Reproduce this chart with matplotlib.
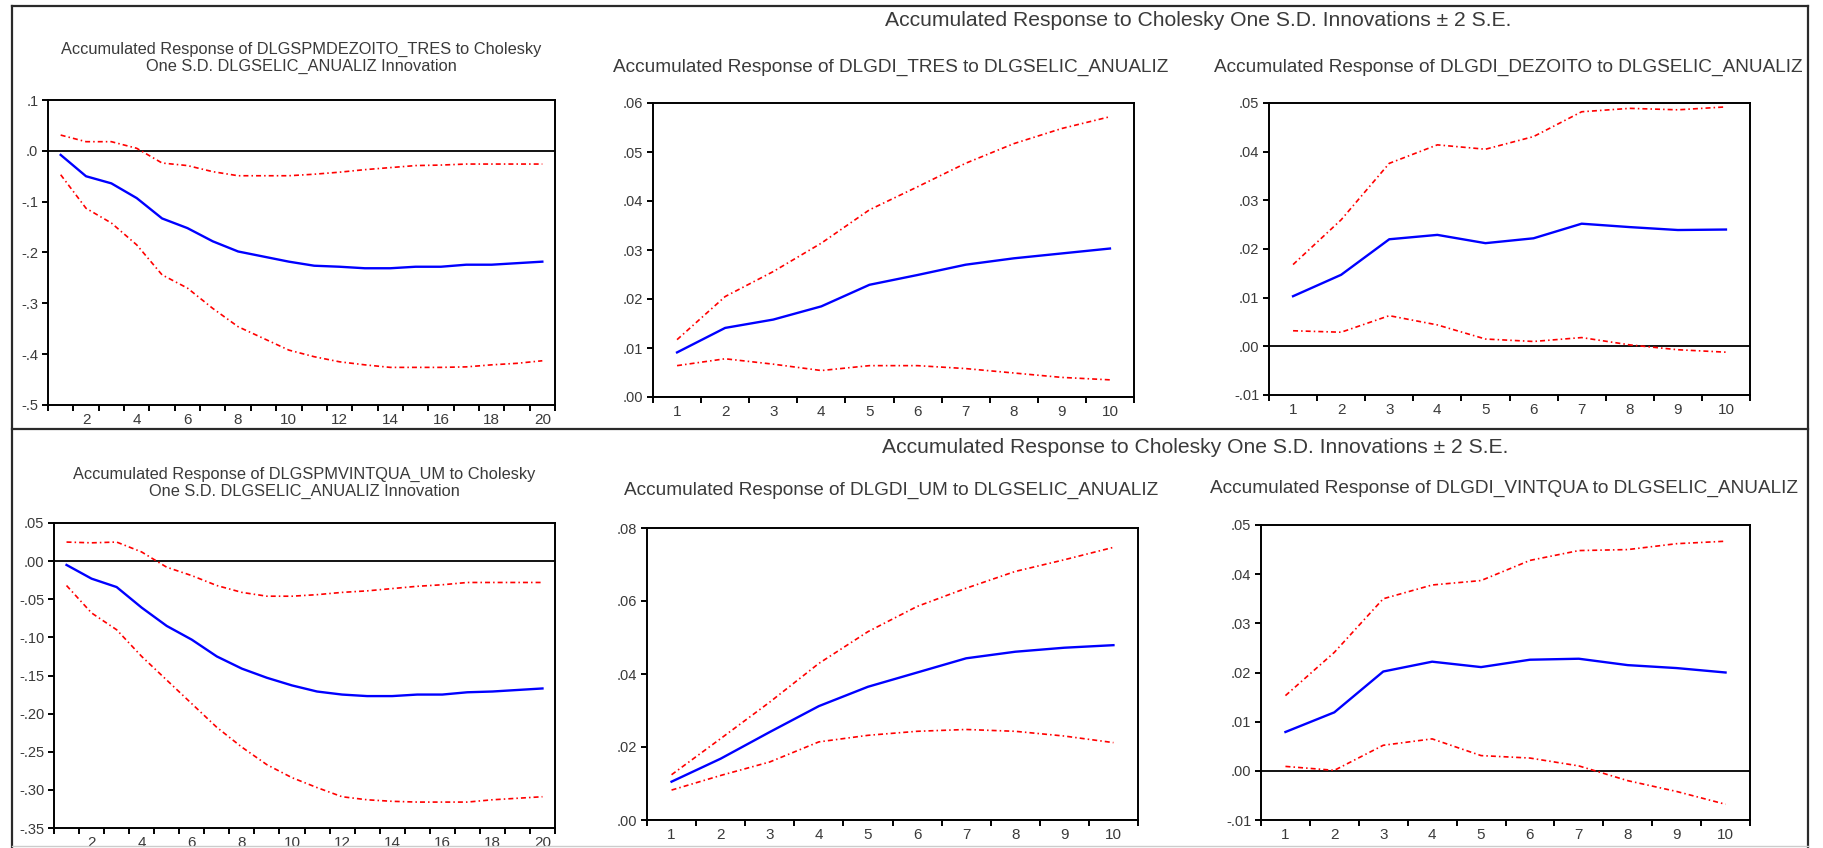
import numpy as np
import matplotlib
matplotlib.use("Agg")
import matplotlib.pyplot as plt
from matplotlib.lines import Line2D
from matplotlib.ticker import FixedLocator, FuncFormatter

plt.rcParams['font.family'] = ['Liberation Sans', 'DejaVu Sans']
plt.rcParams['lines.scale_dashes'] = False

W, H = 1823, 848

# ---- data ----
periods_20 = np.arange(1, 21)
periods_10 = np.arange(1, 11)

# top-left: DLGSPMDEZOITO_TRES
tl_resp = [-0.008, -0.050, -0.064, -0.093, -0.133, -0.152, -0.178, -0.198, -0.208, -0.218,
           -0.226, -0.228, -0.231, -0.231, -0.228, -0.228, -0.224, -0.224, -0.221, -0.218]
tl_upper = [0.031, 0.018, 0.018, 0.005, -0.024, -0.029, -0.041, -0.049, -0.049, -0.049,
            -0.046, -0.042, -0.037, -0.033, -0.029, -0.028, -0.026, -0.026, -0.026, -0.026]
tl_lower = [-0.047, -0.113, -0.142, -0.185, -0.244, -0.270, -0.310, -0.346, -0.369, -0.392,
            -0.405, -0.415, -0.421, -0.426, -0.426, -0.426, -0.425, -0.421, -0.418, -0.413]

# top-middle: DLGDI_TRES
tm_resp = [0.0091, 0.0141, 0.0158, 0.0185, 0.0229, 0.0249, 0.0270, 0.0283, 0.0293, 0.0303]
tm_upper = [0.0117, 0.0205, 0.0256, 0.0314, 0.0382, 0.0429, 0.0477, 0.0517, 0.0548, 0.0572]
tm_lower = [0.0064, 0.0078, 0.0067, 0.0054, 0.0064, 0.0064, 0.0058, 0.0049, 0.0040, 0.0035]

# top-right: DLGDI_DEZOITO
tr_resp = [0.0103, 0.0147, 0.0220, 0.0229, 0.0212, 0.0222, 0.0252, 0.0245, 0.0239, 0.0240]
tr_upper = [0.0168, 0.0260, 0.0376, 0.0414, 0.0405, 0.0431, 0.0482, 0.0489, 0.0486, 0.0492]
tr_lower = [0.0032, 0.0029, 0.0063, 0.0044, 0.0015, 0.0010, 0.0018, 0.0003, -0.0007, -0.0012]

# bottom-left: DLGSPMVINTQUA_UM
bl_resp = [-0.005, -0.023, -0.034, -0.061, -0.085, -0.103, -0.125, -0.141, -0.153, -0.163,
           -0.171, -0.175, -0.177, -0.177, -0.175, -0.175, -0.172, -0.171, -0.169, -0.167]
bl_upper = [0.025, 0.024, 0.025, 0.012, -0.008, -0.019, -0.032, -0.041, -0.046, -0.046,
            -0.044, -0.041, -0.039, -0.036, -0.033, -0.031, -0.028, -0.028, -0.028, -0.028]
bl_lower = [-0.032, -0.068, -0.090, -0.125, -0.156, -0.187, -0.218, -0.244, -0.267, -0.284,
            -0.297, -0.309, -0.313, -0.315, -0.316, -0.316, -0.316, -0.313, -0.311, -0.309]

# bottom-middle: DLGDI_UM
bm_resp = [0.0105, 0.0168, 0.0241, 0.0312, 0.0365, 0.0404, 0.0443, 0.0461, 0.0472, 0.0479]
bm_upper = [0.0124, 0.0223, 0.0323, 0.0429, 0.0516, 0.0585, 0.0635, 0.0681, 0.0713, 0.0747]
bm_lower = [0.0082, 0.0122, 0.0159, 0.0214, 0.0232, 0.0243, 0.0248, 0.0243, 0.0230, 0.0212]

# bottom-right: DLGDI_VINTQUA
br_resp = [0.0079, 0.0119, 0.0202, 0.0222, 0.0211, 0.0226, 0.0228, 0.0215, 0.0209, 0.0200]
br_upper = [0.0153, 0.0241, 0.0350, 0.0378, 0.0387, 0.0428, 0.0448, 0.0450, 0.0462, 0.0467]
br_lower = [0.0009, 0.0001, 0.0052, 0.0065, 0.0031, 0.0026, 0.0010, -0.0020, -0.0042, -0.0068]

suptitle = "Accumulated Response to Cholesky One S.D. Innovations \u00b1 2 S.E."
tl_title = "Accumulated Response of DLGSPMDEZOITO_TRES to Cholesky\nOne S.D. DLGSELIC_ANUALIZ Innovation"
tm_title = "Accumulated Response of DLGDI_TRES to DLGSELIC_ANUALIZ"
tr_title = "Accumulated Response of DLGDI_DEZOITO to DLGSELIC_ANUALIZ"
bl_title = "Accumulated Response of DLGSPMVINTQUA_UM to Cholesky\nOne S.D. DLGSELIC_ANUALIZ Innovation"
bm_title = "Accumulated Response of DLGDI_UM to DLGSELIC_ANUALIZ"
br_title = "Accumulated Response of DLGDI_VINTQUA to DLGSELIC_ANUALIZ"

TEXT = '#3a3a3a'
DASH = (0, (3.6, 2.2, 1.1, 2.2))

fig = plt.figure(figsize=(W / 100, H / 100), dpi=100)


def px_axes(left, right, top, bottom):
    return fig.add_axes([left / W, 1 - bottom / H, (right - left) / W, (bottom - top) / H])


def eviews_fmt(dec):
    def f(v, pos):
        if abs(v) < 1e-12:
            v = 0.0
        return f"{v:.{dec}f}".replace("0.", ".", 1)
    return f


def irf_panel(box, x, resp, upper, lower, ylim, ystep, dec, xlabels):
    ax = px_axes(*box)
    ax.plot(x, upper, color='#ff0000', lw=1.2, ls=DASH)
    ax.plot(x, lower, color='#ff0000', lw=1.2, ls=DASH)
    ax.plot(x, resp, color='#0000ff', lw=1.7)
    ax.axhline(0, color='black', lw=1.3, zorder=1)
    n = len(x)
    ax.set_xlim(0.5, n + 0.5)
    ax.set_ylim(*ylim)
    ax.xaxis.set_major_locator(FixedLocator(xlabels))
    ax.xaxis.set_minor_locator(FixedLocator(np.arange(0.5, n + 1, 1.0)))
    ax.set_yticks(np.arange(ylim[0], ylim[1] + ystep / 2, ystep))
    ax.yaxis.set_major_formatter(FuncFormatter(eviews_fmt(dec)))
    ax.tick_params(axis='x', which='major', length=0, pad=6, labelsize=11, labelcolor=TEXT)
    ax.tick_params(axis='x', which='minor', length=4, width=1.4, direction='out', color='black')
    ax.tick_params(axis='y', which='major', length=4, width=1.4, direction='out', pad=3,
                   labelsize=10.5, labelcolor=TEXT)
    for side in ax.spines:
        ax.spines[side].set_linewidth(1.4)
    return ax


irf_panel((48, 555, 100, 405), periods_20, tl_resp, tl_upper, tl_lower,
          (-0.5, 0.1), 0.1, 1, np.arange(2, 21, 2))
irf_panel((653, 1134, 103, 397), periods_10, tm_resp, tm_upper, tm_lower,
          (0.0, 0.06), 0.01, 2, periods_10)
irf_panel((1269, 1750, 103, 395), periods_10, tr_resp, tr_upper, tr_lower,
          (-0.01, 0.05), 0.01, 2, periods_10)
irf_panel((54, 555, 523, 828), periods_20, bl_resp, bl_upper, bl_lower,
          (-0.35, 0.05), 0.05, 2, np.arange(2, 21, 2))
irf_panel((647, 1138, 528, 820), periods_10, bm_resp, bm_upper, bm_lower,
          (0.0, 0.08), 0.02, 2, periods_10)
irf_panel((1261, 1750, 525, 820), periods_10, br_resp, br_upper, br_lower,
          (-0.01, 0.05), 0.01, 2, periods_10)


def ftext(x, y, s, size):
    fig.text(x / W, 1 - y / H, s, ha='center', va='center', fontsize=size,
             color=TEXT, linespacing=1.15)


ftext(1198, 20, suptitle, 15.2)
ftext(1195, 447, suptitle, 15.2)
ftext(301, 58, tl_title, 11.8)
ftext(304, 483, bl_title, 11.8)
ftext(891, 67, tm_title, 13.7)
ftext(1508, 67, tr_title, 13.7)
ftext(891, 490, bm_title, 13.7)
ftext(1504, 488, br_title, 13.7)

# outer frames around the two rows
for xs, ys in [([12, 1808], [6, 6]), ([12, 1808], [429, 429]),
               ([12, 12], [6, 848]), ([1808, 1808], [6, 848])]:
    fig.add_artist(Line2D([v / W for v in xs], [1 - v / H for v in ys],
                          color='#2a2a2a', lw=1.6))
fig.add_artist(Line2D([12 / W, 1808 / W], [1 - 846 / H] * 2, color='#cccccc', lw=1.0))

fig.savefig("out.png", dpi=100)
